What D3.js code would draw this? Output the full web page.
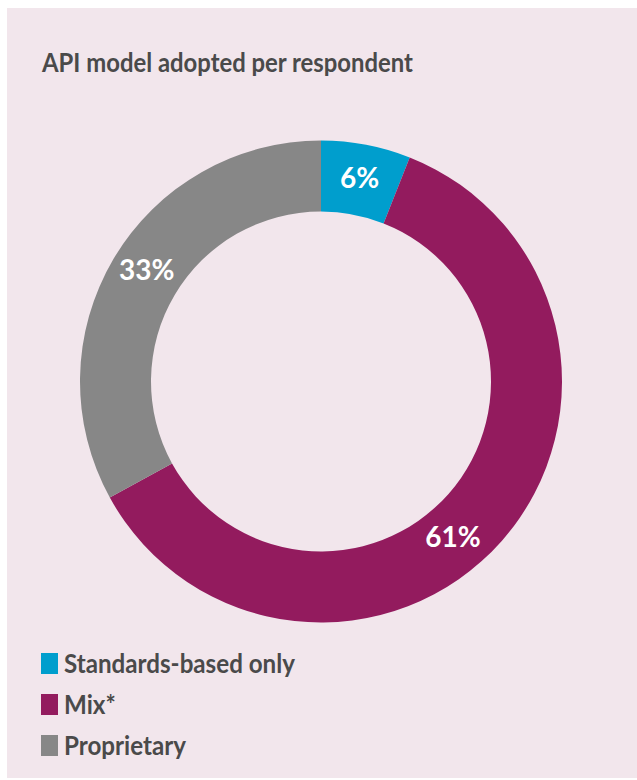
<!DOCTYPE html>
<html>
<head>
<meta charset="utf-8">
<script src="https://cdn.jsdelivr.net/npm/d3@7"></script>
<style>
  html, body { margin: 0; padding: 0; background: #ffffff; }
  svg { display: block; font-family: Lato, "Open Sans", sans-serif; }
</style>
</head>
<body>
<div id="chart"></div>
<script>
// data
const categories = ["Standards-based only", "Mix*", "Proprietary"];
const shares = [6, 61, 33];
const colors = ["#009ecd", "#931b5e", "#878787"];

const width = 637,
  height = 780;

// donut geometry
const cx = 321, cy = 381.5;
const outerR = 241, innerR = 170;

// nudge for label angles (fraction of a turn), the Mix label sits lower in the source
const labelShift = [0, 0.024, 0.004];

const svg = d3.select("#chart")
  .append("svg")
  .attr("width", width)
  .attr("height", height);

svg.append("rect")
  .attr("x", 7)
  .attr("y", 8)
  .attr("width", width - 7)
  .attr("height", height - 10)
  .attr("fill", "#f2e6ec");

// the source font is narrower than Lato, so squeeze the text a bit
svg.append("text")
  .attr("x", 42)
  .attr("y", 72)
  .attr("fill", "#4a4a4a")
  .attr("font-size", 27)
  .attr("font-weight", 700)
  .attr("textLength", 371)
  .attr("lengthAdjust", "spacingAndGlyphs")
  .text("API model adopted per respondent");

const data = categories.map((c, i) => ({ name: c, value: shares[i], color: colors[i], shift: labelShift[i] }));

const pie = d3.pie()
  .value(d => d.value)
  .sort(null);

const arc = d3.arc()
  .innerRadius(innerR)
  .outerRadius(outerR);

const g = svg.append("g")
  .attr("transform", `translate(${cx}, ${cy})`);

const arcs = pie(data);

g.selectAll(".slice")
  .data(arcs)
  .join("path")
  .attr("class", "slice")
  .attr("d", arc)
  .attr("fill", d => d.data.color);

const labelR = (innerR + outerR) / 2;
const midAngle = d => (d.startAngle + d.endAngle) / 2 + d.data.shift * 2 * Math.PI;

g.selectAll(".label")
  .data(arcs)
  .join("text")
  .attr("class", "label")
  .attr("x", d => Math.sin(midAngle(d)) * labelR)
  .attr("y", d => -Math.cos(midAngle(d)) * labelR)
  .attr("dy", 8)
  .attr("text-anchor", "middle")
  .attr("fill", "#ffffff")
  .attr("font-size", 28)
  .attr("font-weight", 700)
  .text(d => d.data.value + "%");

// legend
const legend = svg.append("g")
  .attr("transform", "translate(41, 653)");

const row = legend.selectAll(".row")
  .data(data)
  .join("g")
  .attr("class", "row")
  .attr("transform", (d, i) => `translate(0, ${i * 41})`);

row.append("rect")
  .attr("width", 17)
  .attr("height", 21)
  .attr("fill", d => d.color);

row.append("text")
  .attr("transform", "translate(23, 20) scale(0.93, 1)")
  .attr("fill", "#4a4a4a")
  .attr("font-size", 26)
  .attr("font-weight", 700)
  .text(d => d.name);
</script>
</body>
</html>
